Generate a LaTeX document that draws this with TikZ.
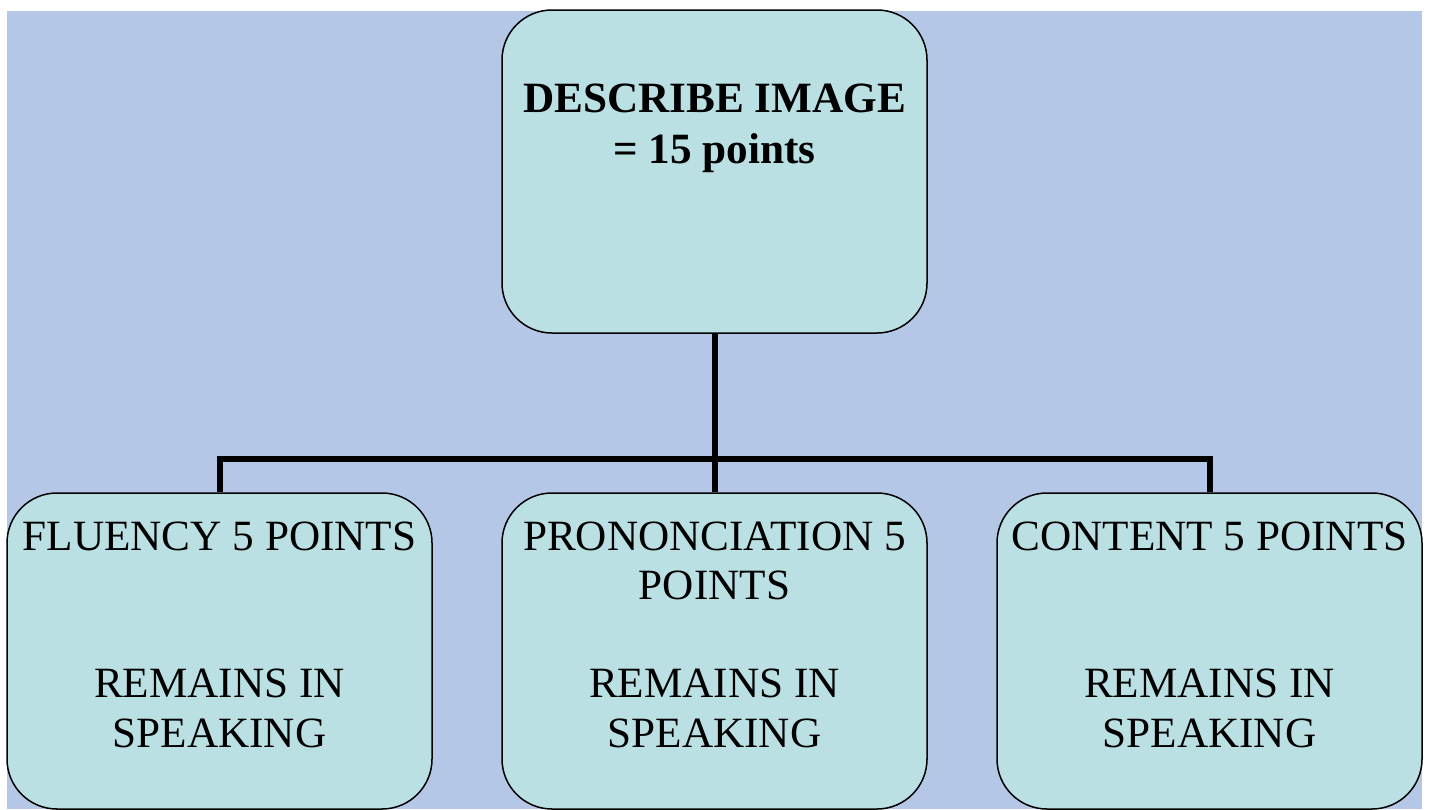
\documentclass[tikz,border=0pt]{standalone}
\usepackage{fontspec}
\setmainfont{Liberation Serif}
\definecolor{bgblue}{RGB}{180,199,231}
\definecolor{boxfill}{RGB}{186,224,228}
\begin{document}
\begin{tikzpicture}[x=0.5pt,y=-0.5pt,
  box/.style={draw=black, line width=0.75pt, fill=boxfill, rounded corners=25pt, inner sep=0pt},
  conn/.style={draw=black, line width=3pt, line join=miter},
  lbl/.style={anchor=north, inner sep=0pt, align=center, font=\fontsize{21.6}{24.6}\selectfont}]
\useasboundingbox (0,0) rectangle (1429,809);
\fill[white] (0,0) rectangle (1429,809);
\fill[bgblue] (7,11) rectangle (1422,809);
\node[box, minimum width=212.5pt, minimum height=161.5pt] (top) at (714.5,171.5) {};
\node[box, minimum width=212.5pt, minimum height=158pt] (left) at (219.5,651) {};
\node[box, minimum width=212.5pt, minimum height=158pt] (mid) at (714.5,651) {};
\node[box, minimum width=212.5pt, minimum height=158pt] (right) at (1209.5,651) {};
\draw[conn] (top.south) -- (mid.north);
\draw[conn] (left.north) -- ++(0,-33) -| (right.north);
\node[lbl, font=\fontsize{21.6}{25.5}\selectfont\bfseries] (toptext) at ([yshift=-37pt]top.north) {DESCRIBE IMAGE\\= 15 points};
\node[lbl] (lefttext) at ([yshift=-14.5pt]left.north) {FLUENCY 5 POINTS\\[49.2pt]REMAINS IN\\SPEAKING};
\node[lbl] (midtext) at ([yshift=-14.5pt]mid.north) {PRONONCIATION 5\\POINTS\\[24.6pt]REMAINS IN\\SPEAKING};
\node[lbl] (righttext) at ([yshift=-14.5pt]right.north) {CONTENT 5 POINTS\\[49.2pt]REMAINS IN\\SPEAKING};
\end{tikzpicture}
\end{document}
